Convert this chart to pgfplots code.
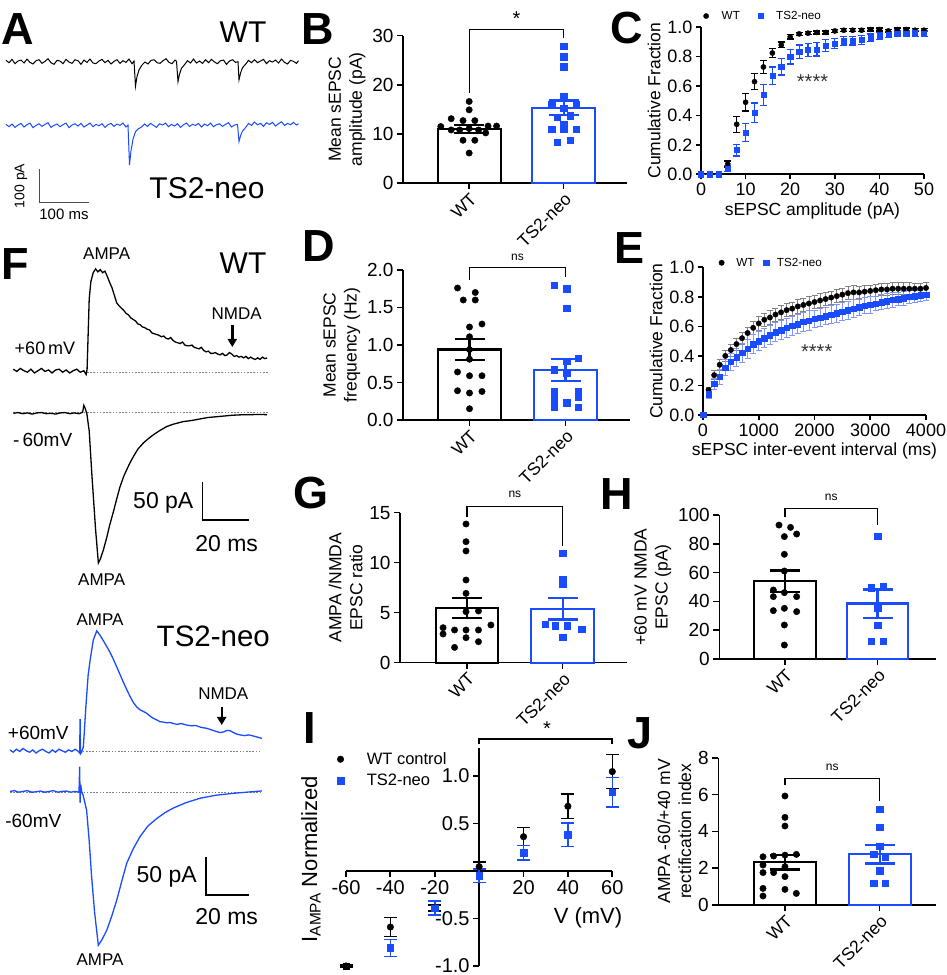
\documentclass[border=0pt]{standalone}
\usepackage{fontspec}
\setmainfont{Liberation Sans}
\usepackage{pgfplots}
\pgfplotsset{compat=1.18}
\usetikzlibrary{arrows.meta}
\definecolor{gpblue}{RGB}{25,75,255}
\definecolor{lblue}{RGB}{130,150,255}
\definecolor{egray}{RGB}{130,130,130}
\newcommand{\fs}[1]{\fontsize{#1}{#1}\selectfont}
\tikzset{brk/.style={line width=1.3pt}}
\pgfplotsset{
  every axis/.append style={/pgf/number format/assume math mode=true},
  gp/.style={scale only axis, anchor=south west, axis x line*=bottom, axis y line*=left,
    tick align=outside, axis line style={line width=1.6pt}, major tick style={line width=1.6pt, black},
    major tick length=6pt, clip=false, tick label style={font=\fontsize{19}{19}\selectfont},
    label style={font=\fontsize{17.5}{21}\selectfont}},
  barp/.style={gp, ymin=0, xtick={0,1}, xticklabels={WT,TS2-neo},
    xticklabel style={rotate=45, anchor=north east, font=\fontsize{17.5}{18}\selectfont, inner sep=2pt},
    ylabel style={align=center}},
  bw/.style={ybar, bar shift=0pt, bar width=0.667, line width=2.2pt,
    error bars/y dir=both, error bars/y explicit,
    error bars/error bar style={line width=2.2pt},
    error bars/error mark options={rotate=90, line width=2.2pt, mark size=15pt}},
  dotw/.style={only marks, mark=*, mark size=3.2pt, black},
  dotb/.style={only marks, mark=square*, mark size=3.2pt, gpblue},
  trace/.style={hide axis, scale only axis, anchor=south west, clip=false},
}
\begin{document}
\begin{tikzpicture}[x=1pt,y=1pt]
\useasboundingbox (0,0) rectangle (946,975);

% ---------------- A traces
\begin{axis}[trace, at={(0pt,755pt)}, width=300pt, height=220pt, xmin=0, xmax=600, ymin=-479.7, ymax=187]
\addplot[black, line width=1pt] coordinates {(12,4)(18,-3)(24,7)(30,-6)(36,2)(42,5)(48,-4)(54,8)(60,-2)(66,-7)(72,3)(78,6)(84,-5)(90,1)(96,9)(102,-3)(108,-8)(114,4)(120,2)(126,-6)(132,7)(138,-1)(144,-5)(150,6)(156,3)(162,-8)(168,5)(174,-2)(180,8)(186,-4)(192,-6)(198,2)(204,7)(210,-3)(216,4)(222,-7)(228,1)(234,6)(240,-5)(246,3)(252,-2)(258,8)(264,-6)(268,2)(271,-74)(274,-45)(278,-25)(284,-10)(290,-1)(296,-7)(302,4)(308,6)(314,-3)(320,-5)(326,3)(332,9)(338,-2)(344,-6)(350,5)(353,1)(356,-60)(359,-38)(363,-20)(369,-9)(375,3)(381,-4)(387,8)(393,-4)(399,2)(405,-5)(411,6)(417,-3)(423,7)(429,-1)(435,-6)(441,3)(447,5)(453,-8)(459,2)(465,6)(471,-2)(476,0)(478,-55)(481,-35)(485,-18)(491,-8)(497,4)(503,-3)(509,6)(515,-3)(521,2)(527,7)(533,-6)(539,3)(545,-1)(551,5)(557,-4)(563,8)(569,-2)(575,-7)(581,4)(587,1)(593,-5)(597,3)};
\addplot[gpblue, line width=1pt] coordinates {(12,-190)(18,-197)(24,-189)(30,-199)(36,-192)(42,-187)(48,-198)(54,-191)(60,-186)(66,-200)(72,-193)(78,-188)(84,-196)(90,-190)(96,-185)(102,-199)(108,-193)(114,-189)(120,-197)(126,-191)(132,-186)(138,-200)(144,-192)(150,-188)(156,-195)(162,-187)(168,-198)(174,-192)(180,-186)(186,-197)(192,-190)(198,-194)(204,-188)(210,-199)(216,-191)(222,-187)(228,-196)(234,-189)(240,-193)(246,-186)(252,-198)(256,-192)(259,-313)(262,-270)(266,-235)(271,-212)(277,-203)(283,-198)(289,-189)(295,-196)(301,-187)(307,-193)(313,-199)(319,-188)(325,-192)(331,-186)(337,-197)(343,-190)(349,-195)(355,-188)(361,-199)(367,-191)(373,-186)(379,-196)(385,-190)(391,-193)(397,-187)(403,-198)(409,-189)(415,-194)(421,-186)(427,-197)(433,-191)(439,-188)(445,-196)(451,-190)(457,-185)(463,-198)(469,-192)(475,-190)(478,-242)(481,-225)(485,-210)(491,-200)(497,-187)(503,-193)(509,-183)(515,-191)(521,-187)(527,-196)(533,-185)(539,-190)(545,-184)(551,-195)(557,-188)(563,-182)(569,-193)(575,-187)(581,-191)(587,-184)(593,-192)(597,-188)};
\end{axis}

% ---------------- F WT traces
\begin{axis}[trace, at={(0pt,385pt)}, width=300pt, height=345pt, xmin=-5.66, xmax=122, ymin=-290.8, ymax=166.7]
\addplot[gray, line width=1.3pt, dash pattern=on 1.6pt off 1.6pt] coordinates {(31.4,-2.1)(108.5,-2.1)};
\addplot[gray, line width=1.3pt, dash pattern=on 1.6pt off 1.6pt] coordinates {(0,-55.7)(108.5,-55.7)};
\addplot[black, line width=1.3pt] coordinates {(0,2)(1.5,-1)(3,3)(4.5,0)(6,-2)(7.5,2)(9,-3)(10.5,0)(12,3)(13.5,-1)(15,1)(16.5,-3)(18,1)(19.5,2)(21,-2)(22.5,1)(24,-3)(25.5,0)(27,2)(28.5,-2)(30,0)(31,-5)(31.4,2)(32.3,95)(33,118)(34,130)(35,135)(36,131)(37,134)(38,130)(39,132)(40,125)(41,117)(42,110)(43,100)(44,90)(45,86)(46,83)(47,80)(48,76)(49,74)(50,70)(51,68)(52,66)(53,62)(54,61)(55,58)(56,57)(57,55)(58,54)(59,50)(60,49)(61,48)(62,47)(63,45)(64,46)(65,43)(66,42)(67,44)(68,40)(69,38)(70,37)(71,36)(72,38)(73,34)(74,33)(75,33)(76,34)(77,31)(78,30)(79,29)(80,31)(81,27)(82,25)(83,26)(84,23)(85,23)(86,24)(87,22)(88,21)(89,23)(90,20)(91,21)(92,24)(93,22)(94,19)(95,20)(96,18)(97,19)(98,17)(99,19)(100,16)(101,18)(102,16)(103,15)(104,17)(105,15)(106,18)(107,16)(108,17)};
\addplot[black, line width=1.3pt] coordinates {(0,-56.5)(2,-55.5)(4,-57)(6,-56)(8,-57.5)(10,-56)(12,-55.5)(14,-57)(16,-56.5)(18,-57.5)(20,-56)(22,-55.5)(24,-57)(26,-56)(28,-57)(29.5,-55)(30,-46)(30.6,-50)(31.3,-57)(32.3,-80)(33.4,-136)(35,-210)(36.2,-255)(37,-250)(38.3,-238)(39.7,-222)(41,-205)(42.6,-187)(44,-170)(45.4,-154)(47,-140)(48.3,-131)(50,-120)(51.1,-114)(53,-104)(55.3,-96)(57.5,-90)(59.6,-85)(62,-80)(65.3,-74)(68,-71)(72.3,-67.5)(76,-66)(79.4,-64)(83,-62)(86.6,-61)(90,-60)(93.6,-59)(97,-58.5)(100,-58.5)(104,-58)(108,-58.3)};
\end{axis}

% ---------------- F TS2 traces
\begin{axis}[trace, at={(0pt,0pt)}, width=300pt, height=360pt, xmin=-4.6, xmax=133.6, ymin=-297.5, ymax=180]
\addplot[gray, line width=1.3pt, dash pattern=on 1.6pt off 1.6pt] coordinates {(33.5,-1.3)(116,-1.3)};
\addplot[gray, line width=1.3pt, dash pattern=on 1.6pt off 1.6pt] coordinates {(0,-55.2)(116,-55.2)};
\addplot[gpblue, line width=1.3pt] coordinates {(0,1)(1.5,-2)(3,2)(4.5,-1)(6,3)(7.5,0)(9,-2)(10.5,1)(12,-3)(13.5,0)(15,2)(16.5,-1)(18,-3)(19.5,1)(21,-2)(22.5,2)(24,0)(25.5,-2)(27,1)(28.5,-1)(30,2)(31.5,-1)(32.1,-3)(32.3,42)(32.5,-4)(33,-2)(33.8,5)(35,60)(36,100)(36.9,120)(38.4,147)(40,159)(41.5,153)(43,146)(44.6,138)(46,131)(47.5,122)(49.2,111)(50.7,101)(52.2,91)(53.8,81)(55.3,72)(56.8,64)(58.4,58)(60,54)(61.5,52)(63,49.6)(64.5,46)(66,43)(67.5,41)(69.1,38.5)(70.6,38)(72.2,37)(73.7,37.5)(75.3,36)(77,35)(79,36)(81.4,34)(83.5,33)(85.5,33.5)(88,31)(90.6,29.7)(92.5,28)(94.5,26)(96.8,24)(98.5,25)(100,27)(101.4,26.5)(103,24)(104.5,22)(106,21)(108,20)(110,21)(112.1,19.5)(114,18)(116,16.4)};
\addplot[gpblue, line width=1.3pt] coordinates {(0,-54)(2,-53)(4,-55)(6,-54)(8,-53)(10,-55)(12,-54.5)(14,-53.5)(16,-55)(18,-54)(20,-53)(22,-55)(24,-54)(26,-53.5)(28,-55)(30,-54)(31.8,-55)(32.1,-21)(32.3,-69)(32.6,-45)(33,-54)(33.6,-58)(35.3,-79)(36.5,-120)(37.6,-167)(39,-215)(40.7,-258)(42.5,-250)(44.6,-238)(46.8,-220)(49.2,-198)(51.5,-173)(53.8,-149)(56.8,-130)(59.9,-114)(63.5,-100)(67.6,-90)(71.5,-82)(75.3,-76)(81,-69)(87.6,-63)(95,-59)(102.9,-56.5)(109,-55)(116,-53.4)};
\end{axis}

% ---------------- B
\begin{axis}[barp, at={(403pt,792pt)}, width=224pt, height=147.3pt, xmin=-0.70, xmax=1.67, ymax=30, ytick={0,10,20,30},
  ylabel={Mean sEPSC\\amplitude (pA)}]
\addplot[bw, black, fill=white] coordinates {(0,11.0) +- (0,0.8)};
\addplot[bw, gpblue, fill=white] coordinates {(1,15.3) +- (0,1.5)};
\addplot[dotw] coordinates {(0,16.6)(0,14.9)(-0.19,13.1)(-0.065,12.7)(0.06,12.7)(-0.30,11.5)(0.2,11.6)(0.29,11.6)(-0.19,10.8)(-0.1,10.8)(0,11.1)(0.1,10.8)(0.175,10.2)(-0.065,8.7)(0.06,8.7)(0,6.1)};
\addplot[dotb] coordinates {(1,27.8)(1,25.7)(1,23.7)(1,17.6)(0.875,16.1)(1.13,16.1)(1,15.2)(0.93,13.4)(1.07,13.7)(1,11.9)(0.875,11.0)(1.13,11.0)(1,11.0)(0.93,8.3)(1.07,8.7)};
\draw[brk] (axis cs:0,18.3) -- (axis cs:0,31.3) -- (axis cs:1,31.3) -- (axis cs:1,29.6);
\node[font=\fs{20}] at (axis cs:0.5,33.4) {*};
\end{axis}

% ---------------- D
\begin{axis}[barp, at={(403pt,555pt)}, width=227pt, height=150pt, xmin=-0.693, xmax=1.672, ymax=2, ytick={0,0.5,1,1.5,2},
  yticklabel style={/pgf/number format/.cd, fixed, fixed zerofill, precision=1},
  ylabel={Mean sEPSC\\frequency (Hz)}]
\addplot[bw, black, fill=white, bar width=0.656] coordinates {(0,0.94) +- (0,0.135)};
\addplot[bw, gpblue, fill=white, bar width=0.656] coordinates {(1,0.67) +- (0,0.145)};
\addplot[dotw] coordinates {(-0.125,1.76)(0.06,1.70)(-0.065,1.60)(0.06,1.60)(0.13,1.28)(0,1.24)(0,1.11)(0,0.94)(0,0.81)(-0.125,0.64)(0.13,0.59)(0,0.59)(-0.125,0.39)(0.13,0.38)(0,0.36)(0,0.15)};
\addplot[dotb] coordinates {(0.884,1.80)(1.012,1.75)(1.012,1.49)(1.134,0.82)(1.012,0.78)(0.884,0.67)(1.012,0.62)(0.884,0.38)(1.134,0.38)(0.884,0.31)(1.134,0.31)(0.884,0.24)(1.012,0.23)(0.884,0.17)(1.134,0.17)};
\draw[brk] (axis cs:0,1.87) -- (axis cs:0,2.03) -- (axis cs:1,2.03) -- (axis cs:1,1.91);
\node[font=\fs{12}] at (axis cs:0.5,2.17) {ns};
\end{axis}

% ---------------- G
\begin{axis}[barp, at={(400pt,312.3pt)}, width=227pt, height=150pt, xmin=-0.70, xmax=1.672, ymax=15, ytick={0,5,10,15},
  ylabel={AMPA /NMDA\\EPSC ratio}]
\addplot[bw, black, fill=white, bar width=0.655] coordinates {(0,5.5) +- (0,1.0)};
\addplot[bw, gpblue, fill=white, bar width=0.655] coordinates {(1,5.4) +- (0,1.08)};
\addplot[dotw] coordinates {(-0.01,13.87)(-0.01,12.1)(-0.01,11.17)(-0.01,8.27)(-0.01,6.93)(-0.01,5.1)(0.12,5.17)(-0.25,3.5)(0.25,3.77)(-0.25,2.87)(-0.13,3.27)(-0.01,3.27)(0.12,3.27)(-0.01,2.5)(0.12,2.1)(-0.13,1.53)};
\addplot[dotb] coordinates {(1,10.93)(1,8.33)(1,7.87)(0.82,3.83)(0.923,3.7)(1.05,3.7)(1.2,3.33)(1,2.53)};
\draw[brk] (axis cs:0,14.6) -- (axis cs:0,15.6) -- (axis cs:1,15.6) -- (axis cs:1,11.67);
\node[font=\fs{12}] at (axis cs:0.5,16.8) {ns};
\end{axis}

% ---------------- H
\begin{axis}[barp, at={(719.3pt,316pt)}, width=216.7pt, height=144pt, xmin=-0.71, xmax=1.632, ymax=100, ytick={0,20,40,60,80,100},
  ylabel={+60 mV NMDA\\EPSC (pA)}]
\addplot[bw, black, fill=white] coordinates {(0,54) +- (0,7.5)};
\addplot[bw, gpblue, fill=white] coordinates {(1,38.5) +- (0,9.8)};
\addplot[dotw] coordinates {(-0.065,93)(0.06,91.4)(-0.007,85)(0.126,86.8)(-0.007,72.7)(-0.007,61.1)(-0.126,47.9)(-0.007,46.1)(-0.126,43.3)(0.126,43.3)(-0.126,33.6)(0.126,32.9)(-0.007,35.2)(-0.007,23.6)(-0.007,9.7)};
\addplot[dotb] coordinates {(1,85.4)(0.933,49.5)(1.06,50.2)(1,35.6)(1,23.6)(0.933,12.5)(1.06,12.5)};
\draw[brk] (axis cs:0,98.4) -- (axis cs:0,104.6) -- (axis cs:1,104.6) -- (axis cs:1,93);
\node[font=\fs{12}] at (axis cs:0.5,112.5) {ns};
\end{axis}

% ---------------- J
\begin{axis}[barp, at={(718.3pt,70pt)}, width=217.7pt, height=147.3pt, xmin=-0.704, xmax=1.595, ymax=8, ytick={0,2,4,6,8},
  ylabel={AMPA -60/+40 mV\\rectification index}]
\addplot[bw, black, fill=white, bar width=0.655] coordinates {(0,2.32) +- (0,0.39)};
\addplot[bw, gpblue, fill=white, bar width=0.655] coordinates {(1,2.75) +- (0,0.5)};
\addplot[dotw] coordinates {(0,5.92)(0,4.76)(0,4.29)(-0.232,2.62)(-0.12,2.66)(0,2.71)(0.12,2.75)(-0.232,2.17)(0,2.08)(-0.232,1.76)(-0.12,1.76)(0,1.54)(-0.232,0.9)(0,0.85)(-0.232,0.49)(0.12,0.63)};
\addplot[dotb] coordinates {(1,5.19)(1,4.22)(1,3.2)(0.937,2.77)(1.056,2.59)(1,1.86)(0.937,1.18)(1.056,1.18)};
\draw[brk] (axis cs:0,6.5) -- (axis cs:0,6.88) -- (axis cs:1,6.88) -- (axis cs:1,5.65);
\node[font=\fs{12}] at (axis cs:0.5,7.5) {ns};
\end{axis}

% ---------------- C
\begin{axis}[gp, at={(701pt,800.7pt)}, width=223pt, height=147pt, xmin=0, xmax=50, ymin=0, ymax=1,
  xtick={0,10,20,30,40,50}, ytick={0,0.2,0.4,0.6,0.8,1.0},
  tick label style={font=\fs{18}}, major tick length=5pt,
  yticklabel style={/pgf/number format/.cd, fixed, fixed zerofill, precision=1},
  xlabel={sEPSC amplitude (pA)}, ylabel={Cumulative Fraction},
  legend columns=2, legend style={at={(-0.003,1.138)}, anchor=north west, draw=none, fill=none, font=\fs{11.7}}]
\addplot[black, only marks, mark=*, mark size=2.6pt, error bars/y dir=both, error bars/y explicit,
  error bars/error bar style={line width=1.2pt}, error bars/error mark options={rotate=90, line width=1.2pt, mark size=3.5pt}]
  table[x=x, y=y, y error=e] {
x y e
0 0 0
2 0 0
4 0 0
6 0.07 0.02
8 0.34 0.055
10 0.49 0.06
12 0.63 0.055
14 0.73 0.045
16 0.825 0.03
18 0.88 0.02
20 0.935 0.015
22 0.955 0.01
24 0.96 0.01
26 0.965 0.01
28 0.965 0.01
30 0.975 0.01
32 0.98 0.01
34 0.98 0.01
36 0.98 0.01
38 0.985 0.01
40 0.985 0.01
42 0.975 0.01
44 0.985 0.01
46 0.985 0.01
48 0.98 0.01
50 0.98 0.01
};
\addlegendentry{\hspace{11pt}WT\hspace{16pt}\null}
\addplot[gpblue, only marks, mark=square*, mark size=2.6pt, error bars/y dir=both, error bars/y explicit,
  error bars/error bar style={line width=1.2pt}, error bars/error mark options={rotate=90, line width=1.2pt, mark size=3.5pt}]
  table[x=x, y=y, y error=e] {
x y e
0 0 0
2 0 0
4 0 0
6 0.04 0.02
8 0.165 0.04
10 0.285 0.06
12 0.42 0.065
14 0.54 0.07
16 0.67 0.06
18 0.73 0.055
20 0.80 0.05
22 0.835 0.045
24 0.845 0.045
26 0.85 0.045
28 0.875 0.04
30 0.89 0.035
32 0.905 0.03
34 0.91 0.03
36 0.915 0.03
38 0.93 0.025
40 0.94 0.025
42 0.95 0.02
44 0.955 0.02
46 0.955 0.02
48 0.96 0.02
50 0.955 0.02
};
\addlegendentry{\hspace{11pt}TS2-neo}
\node[font=\fs{20}, black!80] at (axis cs:25,0.63) {****};
\end{axis}

% ---------------- E
\begin{axis}[gp, at={(703pt,560pt)}, width=223pt, height=147.7pt, xmin=0, xmax=4000, ymin=0, ymax=1,
  xtick={0,1000,2000,3000,4000}, ytick={0,0.2,0.4,0.6,0.8,1.0}, scaled ticks=false,
  tick label style={font=\fs{18}}, major tick length=5pt,
  xticklabel style={/pgf/number format/set thousands separator={}},
  yticklabel style={/pgf/number format/.cd, fixed, fixed zerofill, precision=1},
  xlabel={sEPSC inter-event interval (ms)}, ylabel={Cumulative Fraction},
  legend columns=2, legend style={at={(0.057,1.092)}, anchor=north west, draw=none, fill=none, font=\fs{11.7}}]
\addplot[black, only marks, mark=*, mark size=2.7pt, error bars/y dir=both, error bars/y explicit,
  error bars/error bar style={egray, line width=0.8pt}, error bars/error mark options={rotate=90, egray, line width=0.8pt, mark size=3pt}]
  table[x=x, y=y, y error=e] {
x y e
0 0 0
100 0.17 0.02
200 0.27 0.03
300 0.34 0.035
400 0.40 0.035
500 0.44 0.04
600 0.48 0.04
700 0.52 0.04
800 0.555 0.04
900 0.59 0.045
1000 0.62 0.045
1100 0.645 0.045
1200 0.66 0.045
1300 0.68 0.045
1400 0.695 0.045
1500 0.71 0.045
1600 0.72 0.045
1700 0.735 0.045
1800 0.745 0.045
1900 0.755 0.045
2000 0.765 0.045
2100 0.775 0.045
2200 0.785 0.045
2300 0.795 0.045
2400 0.805 0.045
2500 0.815 0.045
2600 0.825 0.045
2700 0.83 0.045
2800 0.83 0.04
2900 0.835 0.04
3000 0.84 0.04
3100 0.845 0.04
3200 0.85 0.04
3300 0.85 0.04
3400 0.855 0.04
3500 0.855 0.04
3600 0.855 0.04
3700 0.855 0.04
3800 0.855 0.035
3900 0.855 0.035
4000 0.86 0.035
};
\addlegendentry{\hspace{10pt}WT\hspace{7pt}\null}
\addplot[gpblue, only marks, mark=square*, mark size=2.7pt, error bars/y dir=both, error bars/y explicit,
  error bars/error bar style={lblue, line width=0.8pt}, error bars/error mark options={rotate=90, lblue, line width=0.8pt, mark size=3pt}]
  table[x=x, y=y, y error=e] {
x y e
0 0 0
100 0.14 0.03
200 0.21 0.04
300 0.26 0.05
400 0.32 0.055
500 0.36 0.06
600 0.39 0.06
700 0.42 0.065
800 0.45 0.065
900 0.48 0.065
1000 0.50 0.065
1100 0.52 0.065
1200 0.54 0.065
1300 0.56 0.065
1400 0.575 0.065
1500 0.59 0.065
1600 0.605 0.065
1700 0.615 0.065
1800 0.63 0.065
1900 0.64 0.065
2000 0.65 0.06
2100 0.66 0.06
2200 0.67 0.06
2300 0.68 0.06
2400 0.69 0.06
2500 0.70 0.06
2600 0.71 0.06
2700 0.72 0.06
2800 0.73 0.055
2900 0.74 0.055
3000 0.745 0.055
3100 0.755 0.05
3200 0.765 0.05
3300 0.77 0.05
3400 0.78 0.05
3500 0.785 0.045
3600 0.79 0.045
3700 0.80 0.045
3800 0.805 0.04
3900 0.81 0.04
4000 0.815 0.04
};
\addlegendentry{\hspace{6pt}TS2-neo}
\node[font=\fs{20}, black!80] at (axis cs:2040,0.43) {****};
\end{axis}

% ---------------- I
\begin{axis}[scale only axis, anchor=south west, at={(346pt,9pt)}, width=266.3pt, height=217.7pt,
  axis lines*=middle, xmin=-60, xmax=60, ymin=-1, ymax=1.29, clip=false,
  xtick={-60,-40,-20,20,40,60}, ytick={-1,-0.5,0.5,1},
  tick align=outside, axis line style={line width=1.8pt}, major tick style={line width=1.8pt, black}, major tick length=6pt,
  tick label style={font=\fs{20}},
  yticklabel style={inner ysep=0pt, /pgf/number format/.cd, fixed, fixed zerofill, precision=1},
  legend style={at={(-0.045,1.0)}, anchor=north west, draw=none, fill=none, font=\fs{16.5}, row sep=4pt, legend cell align=left}]
\addplot[black, only marks, mark=*, mark size=3.3pt, error bars/y dir=both, error bars/y explicit,
  error bars/error bar style={line width=1.5pt}, error bars/error mark options={rotate=90, line width=1.5pt, mark size=6.5pt}]
  coordinates {(-60,-1.0) +- (0,0.01) (-40,-0.59) +- (0,0.1) (-20,-0.39) +- (0,0.03) (0,0.045) +- (0,0.05) (20,0.36) +- (0,0.095) (40,0.68) +- (0,0.13) (60,1.045) +- (0,0.18)};
\addlegendentry{\hspace{21pt}WT control}
\addplot[gpblue, only marks, mark=square*, mark size=3.3pt, error bars/y dir=both, error bars/y explicit,
  error bars/error bar style={line width=1.5pt}, error bars/error mark options={rotate=90, line width=1.5pt, mark size=6.5pt}]
  coordinates {(-40,-0.81) +- (0,0.09) (-20,-0.39) +- (0,0.075) (0,-0.05) +- (0,0.07) (20,0.19) +- (0,0.075) (40,0.38) +- (0,0.125) (60,0.83) +- (0,0.155)};
\addlegendentry{\hspace{21pt}TS2-neo}
\addplot[black, only marks, mark=square*, mark size=3.3pt, forget plot] coordinates {(-60,-1.0)};
\draw[line width=1.6pt] (axis cs:0,1.336) -- (axis cs:0,1.386) -- (axis cs:60,1.386) -- (axis cs:60,1.336);
\node[font=\fs{20}] at (axis cs:30.6,1.50) {*};
\end{axis}

% ---------------- text annotations in pixel coordinates
\begin{scope}[shift={(0,975)}, y=-1pt]
\foreach \L/\X/\Y in {A/18/29, B/318/29, C/627/28, D/319/246, E/630/248, F/15/264, G/311/493, H/617/494, I/310/728, J/640/733}
  \node[font=\fontsize{45}{45}\selectfont\bfseries, inner sep=0pt] at (\X,\Y) {\L};
% A
\node[font=\fs{30}] at (243,32) {WT};
\node[font=\fs{30}] at (207,188) {TS2-neo};
\node[font=\fs{14}, rotate=90] at (21,186) {100 pA};
\node[font=\fs{15}] at (64,214) {100 ms};
\draw[line width=1pt, black!70] (39.3,169.3) -- (39.3,202.3) -- (89.3,202.3);
% F WT
\node[font=\fs{17}] at (106.7,253.3) {AMPA};
\node[font=\fs{30}] at (243,263) {WT};
\node[font=\fs{17}] at (236.7,313.3) {NMDA};
\draw[-{Triangle[width=9pt,length=8pt]}, line width=2.4pt] (232.3,325) -- (232.3,347);
\node[font=\fs{18}] at (45,348.3) {+60\,mV};
\node[font=\fs{19}] at (42.7,440) {-\,60mV};
\node[font=\fs{23}] at (163.3,503.3) {50 pA};
\draw[line width=1.3pt] (202.3,482.3) -- (202.3,520) -- (249.3,520);
\node[font=\fs{23}] at (226.7,543.3) {20 ms};
\node[font=\fs{17}] at (101.7,580) {AMPA};
% F TS2
\node[font=\fs{17}] at (100,619.3) {AMPA};
\node[font=\fs{29.5}] at (213.3,636) {TS2-neo};
\node[font=\fs{17}] at (223.3,694) {NMDA};
\draw[-{Triangle[width=9pt,length=8pt]}, line width=2.4pt] (221.7,706.7) -- (221.7,725);
\node[font=\fs{19}] at (38.3,733.3) {+60mV};
\node[font=\fs{19}] at (33.3,820.7) {-60mV};
\node[font=\fs{23}] at (166.7,876.7) {50 pA};
\draw[line width=1.3pt] (206,857.3) -- (206,895) -- (249.3,895);
\node[font=\fs{23}] at (226.7,916.7) {20 ms};
\node[font=\fs{17}] at (100,960) {AMPA};
% I
\node[font=\fs{22}] at (588,918) {V (mV)};
\node[font=\fs{22}, rotate=90] at (311,859) {I\textsubscript{AMPA} Normalized};
\end{scope}
\end{tikzpicture}
\end{document}
